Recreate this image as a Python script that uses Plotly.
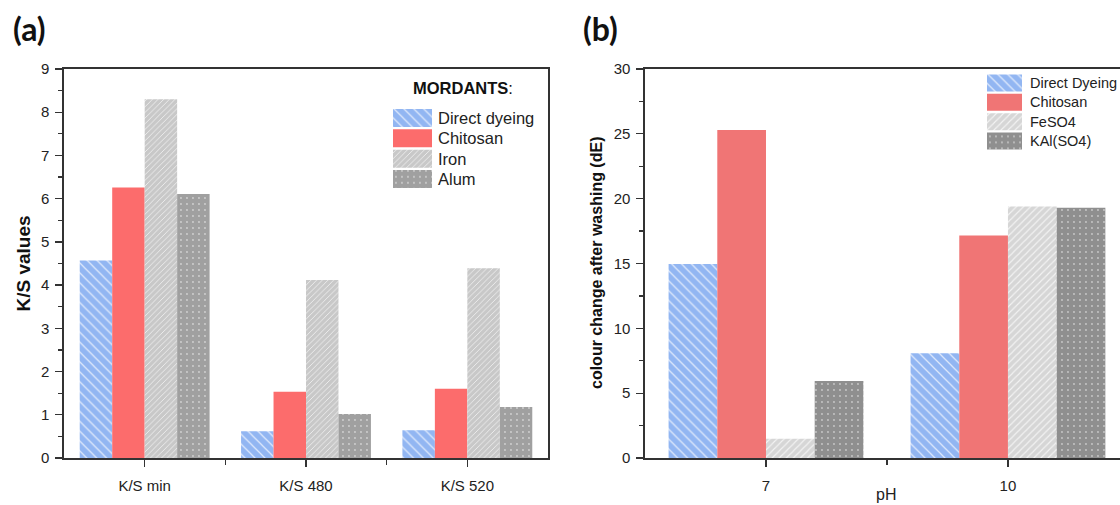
import plotly.graph_objects as go

W, H = 1120, 505

# ---------------- data ----------------
cats_a = ["K/S min", "K/S 480", "K/S 520"]
names_a = ["Direct dyeing", "Chitosan", "Iron", "Alum"]
direct_a = [4.57, 0.62, 0.64]
chitosan_a = [6.26, 1.53, 1.60]
iron_a = [8.30, 4.12, 4.39]
alum_a = [6.11, 1.02, 1.18]

cats_b = ["7", "10"]
names_b = ["Direct Dyeing", "Chitosan", "FeSO4", "KAl(SO4)"]
direct_b = [14.96, 8.08]
chitosan_b = [25.30, 17.16]
feso4_b = [1.48, 19.40]
kal_b = [5.93, 19.30]

yticks_a = list(range(0, 10))
yticks_b = [0, 5, 10, 15, 20, 25, 30]

# ---------------- styles ----------------
BLUE = "#92B6F2"
RED_A = "#FC6C6C"
RED_B = "#F07575"
GRAY_IRON = "#C8C8C8"
GRAY_FE = "#D6D6D6"
GRAY_ALUM = "#A0A0A0"
GRAY_KAL = "#8F8F8F"

styles_a = [
    dict(color=BLUE, shape="\\", size=7, sol=0.18, op=0.7),
    dict(color=RED_A, shape="", size=8, sol=0.2, op=0.7),
    dict(color=GRAY_IRON, shape="/", size=4, sol=0.22, op=0.7),
    dict(color=GRAY_ALUM, shape=".", size=6, sol=0.08, op=0.5),
]
styles_b = [
    dict(color=BLUE, shape="\\", size=7, sol=0.18, op=0.7),
    dict(color=RED_B, shape="", size=8, sol=0.2, op=0.7),
    dict(color=GRAY_FE, shape="/", size=5, sol=0.22, op=0.7),
    dict(color=GRAY_KAL, shape=".", size=6, sol=0.08, op=0.5),
]

FONT = "Liberation Sans, Arial, sans-serif"
TXT = "#222222"
AX = "#333333"


def marker(st):
    m = dict(color=st["color"], line=dict(width=0))
    if st["shape"]:
        m["pattern"] = dict(shape=st["shape"], fgcolor="white", bgcolor=st["color"],
                            size=st["size"], solidity=st["sol"], fillmode="overlay",
                            fgopacity=st["op"])
    return m


def px_x(p):
    return p / W


def px_y(p):
    return (H - p) / H


fig = go.Figure()

xpos_a = list(range(len(cats_a)))
for name, vals, st in zip(names_a, [direct_a, chitosan_a, iron_a, alum_a], styles_a):
    fig.add_trace(go.Bar(x=xpos_a, y=vals, name=name, marker=marker(st),
                         xaxis="x", yaxis="y", showlegend=False))

xpos_b = list(range(len(cats_b)))
for name, vals, st in zip(names_b, [direct_b, chitosan_b, feso4_b, kal_b], styles_b):
    fig.add_trace(go.Bar(x=xpos_b, y=vals, name=name, marker=marker(st),
                         xaxis="x2", yaxis="y2", showlegend=False))

# custom legend swatches (horizontal bars on small hidden axes)
for i, (name, st) in enumerate(zip(names_a, styles_a)):
    fig.add_trace(go.Bar(x=[1], y=[i], orientation="h", width=0.88, offset=-0.44,
                         marker=marker(st), xaxis="x3", yaxis="y3", showlegend=False,
                         hoverinfo="skip"))
for i, (name, st) in enumerate(zip(names_b, styles_b)):
    fig.add_trace(go.Bar(x=[1], y=[i], orientation="h", width=0.88, offset=-0.44,
                         marker=marker(st), xaxis="x4", yaxis="y4", showlegend=False,
                         hoverinfo="skip"))

axis_common = dict(showline=True, linecolor=AX, linewidth=1.6, ticks="outside",
                   tickcolor=AX, tickwidth=1.3, showgrid=False, zeroline=False,
                   automargin=False, tickfont=dict(family=FONT, size=15, color=TXT))

ydom = [px_y(458), px_y(69)]

fig.update_layout(
    width=W, height=H,
    margin=dict(l=0, r=0, t=0, b=0),
    paper_bgcolor="white", plot_bgcolor="white",
    barmode="group", bargap=0.195, bargroupgap=0,
    font=dict(family=FONT, color=TXT),
    xaxis=dict(axis_common, domain=[px_x(64), px_x(548)], range=[-0.5, 2.5],
               tickmode="array", tickvals=xpos_a, ticktext=cats_a, ticklen=7,
               mirror=True, anchor="y", ticklabelstandoff=6,
               minor=dict(tickmode="array", tickvals=[0.5, 1.5], ticklen=5,
                          ticks="outside", tickcolor=AX, tickwidth=1.3)),
    yaxis=dict(axis_common, domain=ydom, range=[0, 9], tickmode="array",
               tickvals=yticks_a, ticklen=7, mirror=True, anchor="x",
               ticklabelstandoff=3,
               minor=dict(dtick=0.5, ticklen=4, ticks="outside", tickcolor=AX,
                          tickwidth=1.3)),
    xaxis2=dict(axis_common, domain=[px_x(645), 1.0], range=[-0.5, 1.463],
                tickmode="array", tickvals=xpos_b, ticktext=cats_b, ticklen=7,
                mirror=True, anchor="y2", ticklabelstandoff=6,
                minor=dict(tickmode="array", tickvals=[0.5], ticklen=5,
                           ticks="outside", tickcolor=AX, tickwidth=1.3)),
    yaxis2=dict(axis_common, domain=ydom, range=[0, 30], tickmode="array",
                tickvals=yticks_b, ticklen=7, mirror=False, anchor="x2",
                ticklabelstandoff=3,
                minor=dict(dtick=2.5, ticklen=4, ticks="outside", tickcolor=AX,
                           tickwidth=1.3)),
    xaxis3=dict(domain=[px_x(393), px_x(432)], range=[0, 1], visible=False,
                anchor="y3", fixedrange=True),
    yaxis3=dict(domain=[px_y(189.2), px_y(107.8)], range=[3.5, -0.5], visible=False,
                anchor="x3", fixedrange=True),
    xaxis4=dict(domain=[px_x(987), px_x(1022)], range=[0, 1], visible=False,
                anchor="y4", fixedrange=True),
    yaxis4=dict(domain=[px_y(150.6), px_y(73.4)], range=[3.5, -0.5], visible=False,
                anchor="x4", fixedrange=True),
)

ann = []
# legend texts
for i, name in enumerate(names_a):
    ann.append(dict(x=px_x(436), y=i, xref="paper", yref="y3", text=name,
                    xanchor="left", yanchor="middle", showarrow=False,
                    font=dict(family=FONT, size=16.5, color=TXT)))
for i, name in enumerate(names_b):
    ann.append(dict(x=px_x(1028), y=i, xref="paper", yref="y4", text=name,
                    xanchor="left", yanchor="middle", showarrow=False,
                    font=dict(family=FONT, size=14.5, color=TXT)))
ann.append(dict(x=px_x(463), y=px_y(88), xref="paper", yref="paper",
                text="<b>MORDANTS</b>:", xanchor="center", yanchor="middle",
                showarrow=False, font=dict(family=FONT, size=16.5, color="#111")))
# axis titles
ann.append(dict(x=px_x(22.5), y=px_y(264), xref="paper", yref="paper",
                text="<b>K/S values</b>", textangle=-90, showarrow=False,
                xanchor="center", yanchor="middle",
                font=dict(family=FONT, size=19, color="#111")))
ann.append(dict(x=px_x(596), y=px_y(263), xref="paper", yref="paper",
                text="<b>colour change after washing (dE)</b>", textangle=-90,
                showarrow=False, xanchor="center", yanchor="middle",
                font=dict(family=FONT, size=16, color="#111")))
ann.append(dict(x=px_x(886), y=px_y(494), xref="paper", yref="paper",
                text="pH", showarrow=False, xanchor="center", yanchor="middle",
                font=dict(family=FONT, size=16, color=TXT)))
# panel labels
ann.append(dict(x=px_x(29), y=px_y(28), xref="paper", yref="paper",
                text="<b>(a)</b>", showarrow=False, xanchor="center", yanchor="middle",
                font=dict(family="Lato, Open Sans, sans-serif", size=32, color="#111")))
ann.append(dict(x=px_x(600), y=px_y(28), xref="paper", yref="paper",
                text="<b>(b)</b>", showarrow=False, xanchor="center", yanchor="middle",
                font=dict(family="Lato, Open Sans, sans-serif", size=32, color="#111")))
fig.update_layout(annotations=ann)

fig.write_html("out.html",
               config={"displayModeBar": False, "staticPlot": True},
               post_script="document.body.style.margin='0';"
                           "document.body.style.padding='0';"
                           "document.body.style.overflow='hidden';")
